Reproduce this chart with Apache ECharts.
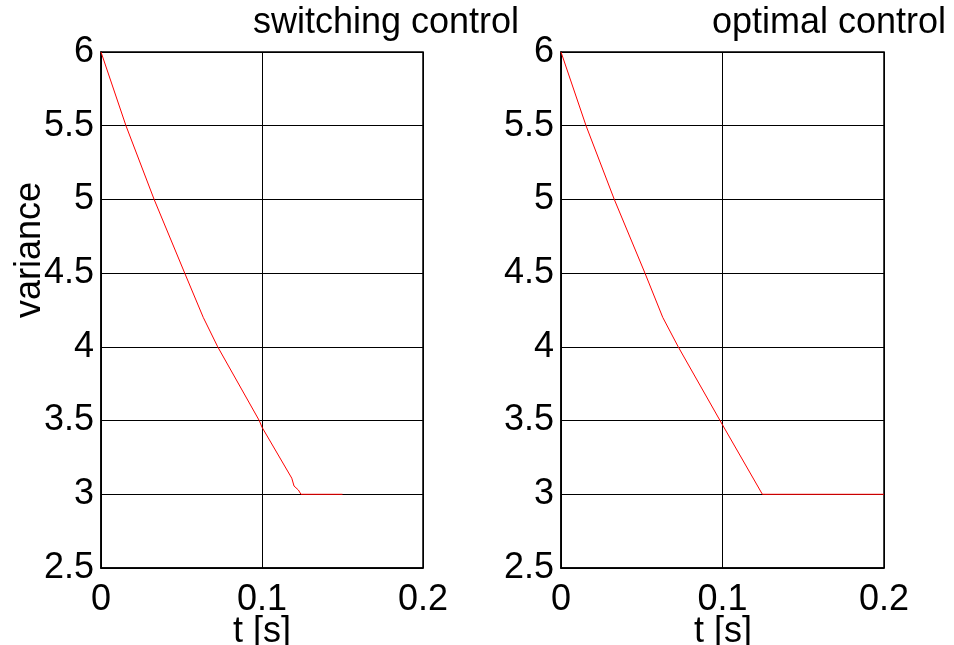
<!DOCTYPE html>
<html>
<head>
<meta charset="utf-8">
<script src="https://cdn.jsdelivr.net/npm/echarts@6/dist/echarts.min.js"></script>
<style>
  html, body { margin: 0; padding: 0; background: #fff; overflow: hidden; }
  #chart { width: 954px; height: 645px; }
</style>
</head>
<body>
<div id="chart"></div>
<script>
// Variance decay under two control laws
const switchingT = [0, 0.0155, 0.033, 0.052, 0.0635, 0.0725, 0.0983, 0.1, 0.1185, 0.1199, 0.1226, 0.1242, 0.15];
const switchingV = [6, 5.5, 5.0, 4.5, 4.2, 4.0, 3.5, 3.455, 3.109, 3.056, 3.029, 3.0, 3.0];
const optimalT = [0, 0.0155, 0.033, 0.052, 0.063, 0.0726, 0.099, 0.1247, 0.2];
const optimalV = [6, 5.5, 5.0, 4.5, 4.2, 4.0, 3.49, 3.0, 3.0];
const xTicks = [0, 0.1, 0.2];
const yTicks = [2.5, 3, 3.5, 4, 4.5, 5, 5.5, 6];
const titles = ['switching control', 'optimal control'];
const xLabel = 't [s]';
const yLabel = 'variance';

const FONT = 'Liberation Sans, Arial, sans-serif';
const FS = 36;

function pairs(ts, vs) { return ts.map((t, i) => [t, vs[i]]); }

function xAxis(gi) {
  return {
    type: 'value', gridIndex: gi,
    min: xTicks[0], max: xTicks[xTicks.length - 1], interval: 0.1,
    axisLine: { show: true, onZero: false, lineStyle: { color: '#000', width: 1.5 } },
    axisTick: { show: false },
    splitLine: { show: true, lineStyle: { color: '#000', width: 1 } },
    axisLabel: { color: '#000', fontSize: FS, fontFamily: FONT, margin: 14,
      formatter: v => String(+v.toFixed(2)) }
  };
}
function yAxis(gi) {
  return {
    type: 'value', gridIndex: gi,
    min: yTicks[0], max: yTicks[yTicks.length - 1], interval: 0.5,
    axisLine: { show: true, onZero: false, lineStyle: { color: '#000', width: 1.5 } },
    axisTick: { show: false },
    splitLine: { show: true, lineStyle: { color: '#000', width: 1 } },
    axisLabel: { color: '#000', fontSize: FS, fontFamily: FONT, margin: 7,
      formatter: v => String(+v.toFixed(1)) }
  };
}

function label(text, x, y, extra) {
  return Object.assign({ type: 'text', x: x, y: y,
    style: { text: text, fill: '#000', font: `${FS}px ${FONT}`,
      align: 'center', verticalAlign: 'top' } }, extra || {});
}

const chart = echarts.init(document.getElementById('chart'), null, { renderer: 'canvas' });
chart.setOption({
  animation: false,
  backgroundColor: '#fff',
  grid: [
    { left: 101, right: 531, top: 52, bottom: 77, outerBoundsMode: 'none',
      show: true, borderColor: '#000', borderWidth: 1.5 },
    { left: 561, right: 70, top: 52, bottom: 77, outerBoundsMode: 'none',
      show: true, borderColor: '#000', borderWidth: 1.5 }
  ],
  xAxis: [xAxis(0), xAxis(1)],
  yAxis: [yAxis(0), yAxis(1)],
  series: [
    { type: 'line', xAxisIndex: 0, yAxisIndex: 0, data: pairs(switchingT, switchingV),
      showSymbol: false, lineStyle: { color: '#ff0000', width: 1 }, z: 5 },
    { type: 'line', xAxisIndex: 1, yAxisIndex: 1, data: pairs(optimalT, optimalV),
      showSymbol: false, lineStyle: { color: '#ff0000', width: 1 }, z: 5 }
  ],
  graphic: [
    { type: 'text', right: 954 - 519, top: 5,
      style: { text: titles[0], fill: '#000', font: `${FS}px ${FONT}` } },
    { type: 'text', right: 954 - 946, top: 5,
      style: { text: titles[1], fill: '#000', font: `${FS}px ${FONT}` } },
    label(xLabel, 262, 614),
    label(xLabel, 723, 614),
    { type: 'text', x: 30, y: 250, rotation: Math.PI / 2,
      style: { text: yLabel, fill: '#000', font: `${FS}px ${FONT}`,
        align: 'center', verticalAlign: 'middle' } }
  ]
});
</script>
</body>
</html>
